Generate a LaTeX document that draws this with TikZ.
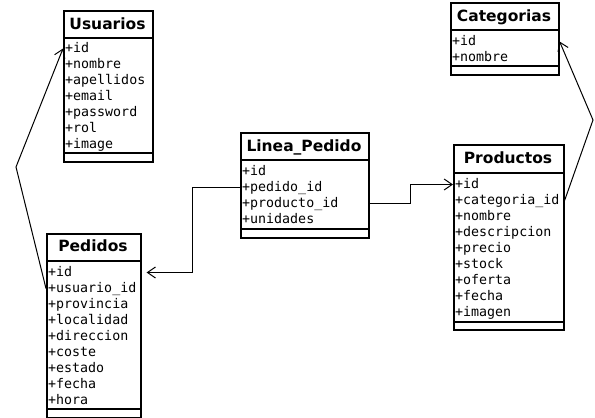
\documentclass[tikz,border=0pt]{standalone}
\usepackage{fontspec}
\setmainfont{DejaVu Sans}
\setmonofont{DejaVu Sans Mono}
\usetikzlibrary{arrows.meta,calc}
\tikzset{
  box/.style={draw, line width=1.6pt, inner sep=0pt, anchor=north west},
  ttl/.style={font=\fontsize{15.5}{18}\selectfont\bfseries, inner sep=0pt, anchor=base},
  attr/.style={font=\fontsize{13.3}{16}\selectfont\ttfamily, anchor=base west, inner xsep=2pt, inner ysep=0pt, text height=9.5pt, text depth=2.5pt},
  sep/.style={line width=1.6pt},
  conn/.style={line width=1pt, -{Straight Barb[length=8pt,width=11pt,line width=1pt]}}
}
\begin{document}
\begin{tikzpicture}[x=1pt,y=-1pt]
\useasboundingbox (0,0) rectangle (595,418);
% Usuarios
\node[box, minimum width=89pt, minimum height=151pt] (usu) at (63,10) {};
\node[ttl] (usuT) at (107.5,29.5) {Usuarios};
\draw[sep] (63,38) -- (152,38);
\node[attr] (usu1) at (63,52) {+id};
\node[attr] (usu2) at (63,68) {+nombre};
\node[attr] (usu3) at (63,84) {+apellidos};
\node[attr] (usu4) at (63,100) {+email};
\node[attr] (usu5) at (63,116) {+password};
\node[attr] (usu6) at (63,132) {+rol};
\node[attr] (usu7) at (63,148) {+image};
\draw[sep] (63,153) -- (152,153);
% Categorias
\node[box, minimum width=108pt, minimum height=72pt] (cat) at (450,2) {};
\node[ttl] (catT) at (504,21.5) {Categorias};
\draw[sep] (450,30) -- (558,30);
\node[attr] (cat1) at (450,45) {+id};
\node[attr] (cat2) at (450,61) {+nombre};
\draw[sep] (450,66) -- (558,66);
% Linea_Pedido
\node[box, minimum width=128pt, minimum height=105pt] (lp) at (240,132) {};
\node[ttl] (lpT) at (304,151.5) {Linea\_Pedido};
\draw[sep] (240,160) -- (368,160);
\node[attr] (lp1) at (240,175) {+id};
\node[attr] (lp2) at (240,191) {+pedido\_id};
\node[attr] (lp3) at (240,207) {+producto\_id};
\node[attr] (lp4) at (240,223) {+unidades};
\draw[sep] (240,229) -- (368,229);
% Pedidos
\node[box, minimum width=94pt, minimum height=184pt] (ped) at (46,233) {};
\node[ttl] (pedT) at (93,251.5) {Pedidos};
\draw[sep] (46,261) -- (140,261);
\node[attr] (ped1) at (46,276) {+id};
\node[attr] (ped2) at (46,292) {+usuario\_id};
\node[attr] (ped3) at (46,308) {+provincia};
\node[attr] (ped4) at (46,324) {+localidad};
\node[attr] (ped5) at (46,340) {+direccion};
\node[attr] (ped6) at (46,356) {+coste};
\node[attr] (ped7) at (46,372) {+estado};
\node[attr] (ped8) at (46,388) {+fecha};
\node[attr] (ped9) at (46,404) {+hora};
\draw[sep] (46,409) -- (140,409);
% Productos
\node[box, minimum width=110pt, minimum height=185pt] (prod) at (453,144) {};
\node[ttl] (prodT) at (508,163.5) {Productos};
\draw[sep] (453,173) -- (563,173);
\node[attr] (prod1) at (453,188) {+id};
\node[attr] (prod2) at (453,204) {+categoria\_id};
\node[attr] (prod3) at (453,220) {+nombre};
\node[attr] (prod4) at (453,236) {+descripcion};
\node[attr] (prod5) at (453,252) {+precio};
\node[attr] (prod6) at (453,268) {+stock};
\node[attr] (prod7) at (453,284) {+oferta};
\node[attr] (prod8) at (453,300) {+fecha};
\node[attr] (prod9) at (453,316) {+imagen};
\draw[sep] (453,322) -- (563,322);
% connectors
\coordinate (k1) at (16,167);
\coordinate (k2) at (593,120);
\coordinate (k3) at (192,0);
\coordinate (k4) at (410,0);
\coordinate (pedin) at ($(ped.east |- ped1)+(5,0)$);
\draw[conn] (ped2.west) -- (k1) -- (usu1.west);
\draw[conn] (prod.east |- prod2.west) -- (k2) -- (cat.east |- cat1.west);
\draw[conn] (lp2.west) -- (lp2.west -| k3) -- (k3 |- ped1) -- (pedin);
\draw[conn] (lp.east |- lp3.west) -- (lp3.west -| k4) -- (k4 |- prod1) -- (prod1.west);
\end{tikzpicture}
\end{document}
